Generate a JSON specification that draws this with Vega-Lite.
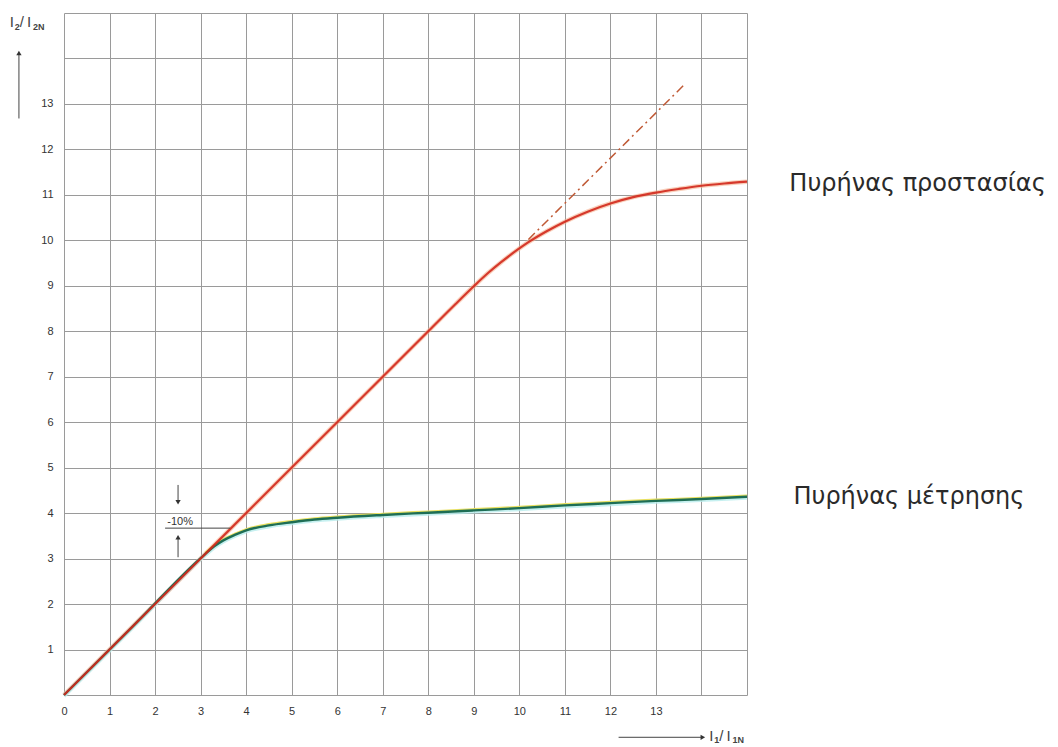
{
  "$schema": "https://vega.github.io/schema/vega-lite/v6.json",
  "autosize": {"type": "none"},
  "padding": {"left": 64, "top": 13, "right": 311, "bottom": 52},
  "width": 683,
  "height": 682,
  "background": "white",
  "config": {"view": {"stroke": null}},
  "datasets": {
    "curves": [
      {"s": "prot", "x": 0, "y": 0}, {"s": "prot", "x": 3, "y": 3}, {"s": "prot", "x": 6, "y": 6}, {"s": "prot", "x": 8, "y": 8},
      {"s": "prot", "x": 8.6, "y": 8.6}, {"s": "prot", "x": 9.0, "y": 8.99}, {"s": "prot", "x": 9.3, "y": 9.27},
      {"s": "prot", "x": 9.6, "y": 9.52}, {"s": "prot", "x": 9.9, "y": 9.75}, {"s": "prot", "x": 10.2, "y": 9.96},
      {"s": "prot", "x": 10.6, "y": 10.2}, {"s": "prot", "x": 11, "y": 10.41}, {"s": "prot", "x": 11.5, "y": 10.63},
      {"s": "prot", "x": 12, "y": 10.81}, {"s": "prot", "x": 12.5, "y": 10.95}, {"s": "prot", "x": 13, "y": 11.05},
      {"s": "prot", "x": 13.5, "y": 11.13}, {"s": "prot", "x": 14, "y": 11.2}, {"s": "prot", "x": 14.5, "y": 11.25},
      {"s": "prot", "x": 15, "y": 11.29},
      {"s": "meas", "x": 0, "y": 0}, {"s": "meas", "x": 1.5, "y": 1.5}, {"s": "meas", "x": 3.1, "y": 3.1}, {"s": "meas", "x": 3.3, "y": 3.27},
      {"s": "meas", "x": 3.5, "y": 3.4}, {"s": "meas", "x": 3.75, "y": 3.52}, {"s": "meas", "x": 4, "y": 3.62},
      {"s": "meas", "x": 4.5, "y": 3.73}, {"s": "meas", "x": 5, "y": 3.8}, {"s": "meas", "x": 5.5, "y": 3.86},
      {"s": "meas", "x": 6, "y": 3.9}, {"s": "meas", "x": 7, "y": 3.96}, {"s": "meas", "x": 8, "y": 4.01},
      {"s": "meas", "x": 9, "y": 4.06}, {"s": "meas", "x": 10, "y": 4.11}, {"s": "meas", "x": 11, "y": 4.17},
      {"s": "meas", "x": 12, "y": 4.22}, {"s": "meas", "x": 13, "y": 4.27}, {"s": "meas", "x": 14, "y": 4.31},
      {"s": "meas", "x": 15, "y": 4.36},
      {"s": "ext", "x": 10.2, "y": 10.02}, {"s": "ext", "x": 13.65, "y": 13.45}
    ],
    "rules": [
      {"x": -0.99, "x2": -0.99, "y": 12.68, "y2": 14.1},
      {"x": 12.18, "x2": 14.0, "y": -0.93, "y2": -0.93},
      {"x": 2.505, "x2": 2.505, "y": 4.62, "y2": 4.25},
      {"x": 2.505, "x2": 2.505, "y": 3.03, "y2": 3.45},
      {"x": 2.22, "x2": 3.65, "y": 3.67, "y2": 3.67}
    ],
    "heads": [
      {"x": -0.99, "y": 14.12, "shape": "triangle-up"},
      {"x": 14.03, "y": -0.93, "shape": "triangle-right"},
      {"x": 2.505, "y": 4.24, "shape": "triangle-down"},
      {"x": 2.505, "y": 3.47, "shape": "triangle-up"}
    ],
    "bigtext": [
      {"x": -1.19, "y": 14.7, "t": "I"},
      {"x": -0.97, "y": 14.7, "t": "/"},
      {"x": -0.81, "y": 14.7, "t": "I"},
      {"x": 14.17, "y": -1.01, "t": "I"},
      {"x": 14.39, "y": -1.01, "t": "/"},
      {"x": 14.55, "y": -1.01, "t": "I"}
    ],
    "subtext": [
      {"x": -1.08, "y": 14.63, "t": "2"},
      {"x": -0.68, "y": 14.63, "t": "2N"},
      {"x": 14.28, "y": -1.05, "t": "1"},
      {"x": 14.68, "y": -1.05, "t": "1N"}
    ],
    "labels": [
      {"x": 15.93, "y": 11.25, "t": "Πυρήνας προστασίας"},
      {"x": 16.02, "y": 4.35, "t": "Πυρήνας μέτρησης"}
    ]
  },
  "encoding": {
    "x": {"field": "x", "type": "quantitative", "scale": {"domain": [0, 15], "nice": false, "zero": false}, "axis": {
      "values": [0, 1, 2, 3, 4, 5, 6, 7, 8, 9, 10, 11, 12, 13, 14, 15],
      "grid": true, "gridColor": "#9a9a9a", "gridWidth": 1, "domain": false, "ticks": false,
      "labelExpr": "datum.value <= 13 ? datum.label : ''", "labelPadding": 10,
      "labelFont": "Liberation Sans", "labelFontSize": 11, "labelColor": "#333", "labelFlush": false, "title": null}},
    "y": {"field": "y", "type": "quantitative", "scale": {"domain": [0, 15], "nice": false, "zero": false}, "axis": {
      "values": [0, 1, 2, 3, 4, 5, 6, 7, 8, 9, 10, 11, 12, 13, 14, 15],
      "grid": true, "gridColor": "#9a9a9a", "gridWidth": 1, "domain": false, "ticks": false,
      "labelExpr": "datum.value >= 1 && datum.value <= 13 ? datum.label : ''", "labelPadding": 11,
      "labelFont": "Liberation Sans", "labelFontSize": 11, "labelColor": "#333", "labelFlush": false, "title": null}}
  },
  "layer": [
    {
      "data": {"name": "curves"},
      "transform": [{"filter": "datum.s === 'prot'"}],
      "mark": {"type": "line", "interpolate": "monotone", "color": "#f5b090", "strokeWidth": 4.5, "opacity": 0.6},
      "encoding": {}
    },
    {
      "data": {"name": "curves"},
      "transform": [{"filter": "datum.s === 'meas'"}],
      "mark": {"type": "line", "interpolate": "monotone", "color": "#b8ecec", "strokeWidth": 4, "yOffset": 1, "opacity": 0.8},
      "encoding": {}
    },
    {
      "data": {"name": "curves"},
      "transform": [{"filter": "datum.s === 'meas' && datum.x >= 3"}],
      "mark": {"type": "line", "interpolate": "monotone", "color": "#e8e060", "strokeWidth": 2, "yOffset": -1.3},
      "encoding": {}
    },
    {
      "data": {"name": "curves"},
      "transform": [{"filter": "datum.s === 'meas'"}],
      "mark": {"type": "line", "interpolate": "monotone", "color": "#1e6e55", "strokeWidth": 2.4},
      "encoding": {}
    },
    {
      "data": {"name": "curves"},
      "transform": [{"filter": "datum.s === 'prot'"}],
      "mark": {"type": "line", "interpolate": "monotone", "color": "#d1281c", "strokeWidth": 2.2, "opacity": 0.9},
      "encoding": {}
    },
    {
      "data": {"name": "curves"},
      "transform": [{"filter": "datum.s === 'ext'"}],
      "mark": {"type": "line", "color": "#c05a36", "strokeWidth": 1.5, "strokeDash": [9, 4, 2, 4]},
      "encoding": {}
    },
    {
      "data": {"name": "rules"},
      "mark": {"type": "rule", "color": "#444", "strokeWidth": 1, "clip": false},
      "encoding": {"x2": {"field": "x2"}, "y2": {"field": "y2"}}
    },
    {
      "data": {"name": "heads"},
      "mark": {"type": "point", "filled": true, "color": "#333", "size": 28, "opacity": 1, "clip": false},
      "encoding": {"shape": {"field": "shape", "type": "nominal", "scale": null}}
    },
    {
      "data": {"values": [{"x": 2.55, "y": 3.8, "t": "-10%"}]},
      "mark": {"type": "text", "font": "Liberation Sans", "fontSize": 11, "color": "#333", "baseline": "middle", "align": "center"},
      "encoding": {"text": {"field": "t"}}
    },
    {
      "data": {"name": "bigtext"},
      "mark": {"type": "text", "font": "Liberation Sans", "fontSize": 15, "color": "#444", "baseline": "alphabetic", "align": "left", "clip": false},
      "encoding": {"text": {"field": "t"}}
    },
    {
      "data": {"name": "subtext"},
      "mark": {"type": "text", "font": "Liberation Sans", "fontSize": 9, "fontWeight": "bold", "color": "#444", "baseline": "alphabetic", "align": "left", "clip": false},
      "encoding": {"text": {"field": "t"}}
    },
    {
      "data": {"name": "labels"},
      "mark": {"type": "text", "font": "DejaVu Sans", "fontSize": 24, "color": "#2a2a2a", "baseline": "middle", "align": "left", "clip": false},
      "encoding": {"text": {"field": "t"}}
    }
  ]
}
